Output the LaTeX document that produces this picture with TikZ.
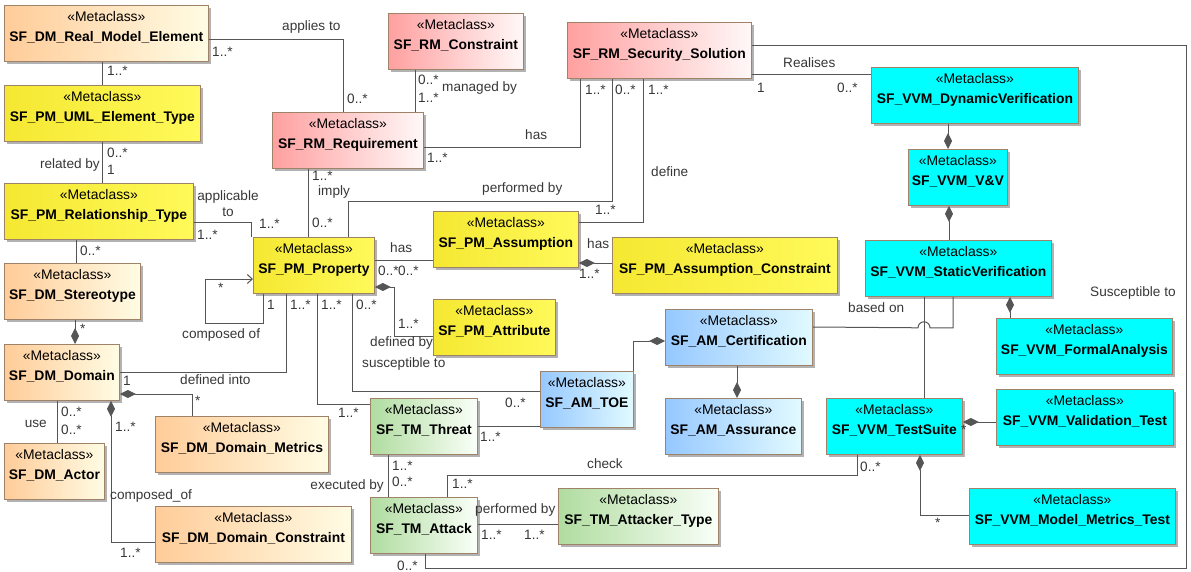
\documentclass[tikz,border=0pt]{standalone}
\usepackage{fontspec}
\setmainfont{Liberation Sans}
\usepackage{tikz}
\usetikzlibrary{calc}
\usetikzlibrary{shadows}
\usetikzlibrary{arrows.meta}
\definecolor{dmL}{RGB}{255,204,153}
\definecolor{dmR}{RGB}{255,252,228}
\definecolor{pmL}{RGB}{245,232,50}
\definecolor{pmR}{RGB}{255,250,90}
\definecolor{rmL}{RGB}{255,160,160}
\definecolor{rmR}{RGB}{255,248,248}
\definecolor{amL}{RGB}{150,200,255}
\definecolor{amR}{RGB}{225,250,255}
\definecolor{tmL}{RGB}{176,220,160}
\definecolor{tmR}{RGB}{250,255,248}
\definecolor{vvm}{RGB}{0,255,255}
\definecolor{boxline}{RGB}{160,130,105}
\definecolor{edge}{RGB}{85,85,85}
\definecolor{lbltext}{RGB}{55,55,55}
\tikzstyle{metanode} = [draw=boxline, line width=0.8pt, rectangle, anchor=north west, minimum height=56pt, inner xsep=2pt, inner ysep=0pt, text height=16pt, text depth=40pt, font=\fontsize{13.9}{20}\selectfont, drop shadow={shadow xshift=2.5pt, shadow yshift=-2.5pt, fill=black, opacity=0.3}]
\tikzstyle{colorDM} = [left color=dmL, right color=dmR]
\tikzstyle{colorPM} = [left color=pmL, right color=pmR]
\tikzstyle{colorRM} = [left color=rmL, right color=rmR]
\tikzstyle{colorAM} = [left color=amL, right color=amR]
\tikzstyle{colorTM} = [left color=tmL, right color=tmR]
\tikzstyle{colorVVM} = [fill=vvm]
\tikzstyle{assoc} = [draw=edge, line width=1pt]
\tikzstyle{comp} = [assoc, arrows={Diamond[length=16pt,width=8pt]-}]
\tikzstyle{lbl} = [anchor=west, inner sep=0pt, text=lbltext, font=\fontsize{13.6}{16}\selectfont]
\newcommand\metacls[1]{\begin{tabular}[t]{@{}c@{}}«Metaclass»\\\textbf{#1}\end{tabular}}

\begin{document}
\begin{tikzpicture}[x=1pt, y=-1pt]
\useasboundingbox (0,0) rectangle (1191,572);
% domain model
\node[metanode, colorDM, minimum width=204pt] (rme) at (4,5) {\metacls{SF\_DM\_Real\_Model\_Element}};
\node[metanode, colorDM, minimum width=136pt] (stereo) at (4,263) {\metacls{SF\_DM\_Stereotype}};
\node[metanode, colorDM, minimum width=115pt] (domain) at (4,344) {\metacls{SF\_DM\_Domain}};
\node[metanode, colorDM, minimum width=100pt] (actor) at (4,443) {\metacls{SF\_DM\_Actor}};
\node[metanode, colorDM, minimum width=173pt] (dmetrics) at (155,416) {\metacls{SF\_DM\_Domain\_Metrics}};
\node[metanode, colorDM, minimum width=196pt] (dcons) at (155,506) {\metacls{SF\_DM\_Domain\_Constraint}};
% property model
\node[metanode, colorPM, minimum width=196pt] (umlt) at (4,85) {\metacls{SF\_PM\_UML\_Element\_Type}};
\node[metanode, colorPM, minimum width=189pt] (relt) at (4,183) {\metacls{SF\_PM\_Relationship\_Type}};
\node[metanode, colorPM, minimum width=121pt] (prop) at (253,237) {\metacls{SF\_PM\_Property}};
\node[metanode, colorPM, minimum width=145pt] (assum) at (433,211) {\metacls{SF\_PM\_Assumption}};
\node[metanode, colorPM, minimum width=225pt] (assumc) at (612,237) {\metacls{SF\_PM\_Assumption\_Constraint}};
\node[metanode, colorPM, minimum width=122pt] (attr) at (433,299) {\metacls{SF\_PM\_Attribute}};
% requirement model
\node[metanode, colorRM, minimum width=151pt] (req) at (272,112) {\metacls{SF\_RM\_Requirement}};
\node[metanode, colorRM, minimum width=135pt] (rmcons) at (388,13) {\metacls{SF\_RM\_Constraint}};
\node[metanode, colorRM, minimum width=184pt] (secsol) at (567,22) {\metacls{SF\_RM\_Security\_Solution}};
% assurance model
\node[metanode, colorAM, minimum width=147pt] (cert) at (665,309) {\metacls{SF\_AM\_Certification}};
\node[metanode, colorAM, minimum width=136pt] (assur) at (665,398) {\metacls{SF\_AM\_Assurance}};
\node[metanode, colorAM, minimum width=93pt] (toe) at (540,371) {\metacls{SF\_AM\_TOE}};
% threat model
\node[metanode, colorTM, minimum width=107pt] (threat) at (370,398) {\metacls{SF\_TM\_Threat}};
\node[metanode, colorTM, minimum width=107pt] (attack) at (370,497) {\metacls{SF\_TM\_Attack}};
\node[metanode, colorTM, minimum width=160pt] (attype) at (558,488) {\metacls{SF\_TM\_Attacker\_Type}};
% V&V model
\node[metanode, colorVVM, minimum width=207pt] (dynver) at (871,67) {\metacls{SF\_VVM\_DynamicVerification}};
\node[metanode, colorVVM, minimum width=99pt] (vnv) at (908,149) {\metacls{SF\_VVM\_V\&V}};
\node[metanode, colorVVM, minimum width=186pt] (statver) at (865,240) {\metacls{SF\_VVM\_StaticVerification}};
\node[metanode, colorVVM, minimum width=176pt] (formal) at (996,318) {\metacls{SF\_VVM\_FormalAnalysis}};
\node[metanode, colorVVM, minimum width=136pt] (testsuite) at (826,398) {\metacls{SF\_VVM\_TestSuite}};
\node[metanode, colorVVM, minimum width=177pt] (valtest) at (996,389) {\metacls{SF\_VVM\_Validation\_Test}};
\node[metanode, colorVVM, minimum width=206pt] (mmtest) at (969,488) {\metacls{SF\_VVM\_Model\_Metrics\_Test}};

% associations
\draw[assoc] ($(rme.north east)+(0,35)$) -| ($(req.north west)+(71,0)$);
\draw[assoc] ($(rme.south west)+(98,0)$) -- ($(umlt.north west)+(98,0)$);
\draw[assoc] ($(umlt.south west)+(98,0)$) -- ($(relt.north west)+(98,0)$);
\draw[assoc] ($(relt.north east)+(0,40)$) -| ($(prop.north west)+(-2,0)$);
\draw[assoc] ($(relt.south west)+(72,0)$) -- ($(stereo.north west)+(72,0)$);
\draw[comp] ($(domain.north west)+(71,0)$) -- ($(stereo.south west)+(71,0)$);
\draw[assoc, -{Straight Barb[length=5pt,width=9pt]}] ($(prop.south west)+(10,0)$) -- ++(0,30) -| ($(prop.north west)+(-48,42)$) -- ($(prop.north west)+(0,42)$);
\draw[assoc] ($(prop.south west)+(33,0)$) |- ($(domain.north east)+(0,28)$);
\draw[assoc] ($(prop.south west)+(64,0)$) |- ($(threat.north west)+(0,6)$);
\draw[assoc] ($(prop.south west)+(99,0)$) |- ($(toe.north west)+(0,20)$);
\draw[comp] ($(prop.north east)+(0,50)$) -- ++(20,0) |- ($(attr.north west)+(0,37)$);
\draw[assoc] ($(prop.north east)+(0,23)$) -- ($(assum.north west)+(0,49)$);
\draw[assoc] ($(req.south west)+(36,0)$) -- ($(prop.north west)+(55,0)$);
\draw[assoc] ($(rmcons.south west)+(27,0)$) -- ($(req.north west)+(143,0)$);
\draw[assoc] ($(req.north east)+(0,36)$) -| ($(secsol.south west)+(13,0)$);
\draw[assoc] ($(secsol.south west)+(45,0)$) |- ($(prop.north west)+(95,-35)$) -- ($(prop.north west)+(95,0)$);
\draw[assoc] ($(secsol.south west)+(76,0)$) |- ($(assum.north east)+(0,12)$);
\draw[comp] ($(assum.north east)+(0,52)$) -- ($(assumc.north west)+(0,26)$);
\draw[assoc] ($(secsol.north east)+(0,53)$) -- ($(dynver.north west)+(0,8)$);
\draw[assoc] ($(secsol.north east)+(0,24)$) -- ++(435,0) |- ($(attack.south west)+(55,15)$) -- ($(attack.south west)+(55,0)$);
\draw[comp] ($(vnv.north west)+(40,0)$) -- ($(dynver.south west)+(77,0)$);
\draw[comp] ($(vnv.south west)+(41,0)$) -- ($(statver.north west)+(84,0)$);
\draw[comp] ($(statver.south west)+(145,0)$) -- ($(formal.north west)+(14,0)$);
\draw[assoc] ($(statver.south west)+(59,0)$) -- ($(testsuite.north west)+(98,0)$);
\draw[assoc] ($(cert.north east)+(0,18)$) -- ($(statver.south west)+(53,31)$) arc[start angle=180, end angle=0, radius=6pt] -| ($(statver.south west)+(88,0)$);
\draw[comp] ($(cert.north west)+(0,32)$) -| (toe.north east);
\draw[comp] ($(assur.north west)+(72,0)$) -- ($(cert.south west)+(72,0)$);
\draw[assoc] ($(threat.north east)+(0,28)$) -- ($(toe.north west)+(0,55)$);
\draw[assoc] ($(threat.south west)+(18,0)$) -- ($(attack.north west)+(18,0)$);
\draw[assoc] ($(attack.north west)+(77,0)$) |- ($(testsuite.south west)+(31,21)$) -- ($(testsuite.south west)+(31,0)$);
\draw[assoc] ($(attack.north east)+(0,27)$) -- ($(attype.north west)+(0,36)$);
\draw[comp] ($(testsuite.north east)+(0,24)$) -- ($(valtest.north west)+(0,33)$);
\draw[comp] ($(testsuite.south west)+(94,0)$) |- ($(mmtest.north west)+(0,27)$);
\draw[assoc] ($(domain.south west)+(53,0)$) -- ($(actor.north west)+(53,0)$);
\draw[comp] ($(domain.north east)+(0,50)$) -| ($(dmetrics.north west)+(37,0)$);
\draw[comp] ($(domain.south west)+(107,0)$) |- ($(dcons.north west)+(0,36)$);

% labels and multiplicities
\node[lbl] (appliesto) at (282,27) {applies to};
\node[lbl] (mrmereq) at (212,52) {1..*};
\node[lbl] (mreqrme) at (347,99) {0..*};
\node[lbl] (mrmeuml) at (107,71) {1..*};
\node[lbl] (mumlrel) at (107,153) {0..*};
\node[lbl] (mreluml) at (107,170) {1};
\node[lbl, anchor=east] (relatedby) at (100,165) {related by};
\node[lbl, anchor=center, align=center] (applicable) at (228,204) {applicable\\to};
\node[lbl] (mproprel) at (259,224) {1..*};
\node[lbl] (mrelprop) at (197,235) {1..*};
\node[lbl] (mrelst) at (80,251) {0..*};
\node[lbl] (mstdom) at (80,329) {*};
\node[lbl] (mloopa) at (218,288) {*};
\node[lbl] (mloopb) at (267,305) {1};
\node[lbl] (composedof) at (182,335) {composed of};
\node[lbl] (definedinto) at (180,380) {defined into};
\node[lbl] (mdomprop) at (123,381) {1};
\node[lbl] (mpropdom) at (290,305) {1..*};
\node[lbl] (mpropthr) at (321,305) {1..*};
\node[lbl] (mproptoe) at (356,305) {0..*};
\node[lbl] (mthrprop) at (338,413) {1..*};
\node[lbl] (susceptible) at (362,364) {susceptible to};
\node[lbl] (mtoeprop) at (505,403) {0..*};
\node[lbl] (mattr) at (398,324) {1..*};
\node[lbl] (definedby) at (370,343) {defined by};
\node[lbl] (hasa) at (390,248) {has};
\node[lbl] (mpropas) at (378,271) {0..*};
\node[lbl] (masprop) at (398,271) {0..*};
\node[lbl] (mreqprop) at (312,176) {1..*};
\node[lbl] (imply) at (318,192) {imply};
\node[lbl] (mpropreq) at (312,223) {0..*};
\node[lbl] (mconsreq) at (418,80) {0..*};
\node[lbl] (mreqcons) at (418,98) {1..*};
\node[lbl] (managedby) at (442,88) {managed by};
\node[lbl] (hasb) at (525,135) {has};
\node[lbl] (mreqsol) at (427,158) {1..*};
\node[lbl] (msolreq) at (585,90) {1..*};
\node[lbl] (performedbya) at (482,189) {performed by};
\node[lbl] (msolprop) at (615,90) {0..*};
\node[lbl] (massol) at (595,210) {1..*};
\node[lbl] (define) at (651,172) {define};
\node[lbl] (msolas) at (648,90) {1..*};
\node[lbl] (hasc) at (587,244) {has};
\node[lbl] (masc) at (579,274) {1..*};
\node[lbl] (realises) at (783,63) {Realises};
\node[lbl] (msoldyn) at (757,88) {1};
\node[lbl] (mdynsol) at (837,88) {0..*};
\node[lbl] (suscbig) at (1090,293) {Susceptible to};
\node[lbl] (mattsol) at (397,566) {0..*};
\node[lbl] (basedon) at (848,308) {based on};
\node[lbl] (mthrtoe) at (480,437) {1..*};
\node[lbl] (mthratt) at (392,466) {1..*};
\node[lbl] (mattthr) at (392,482) {0..*};
\node[lbl, anchor=east] (executedby) at (384,486) {executed by};
\node[lbl] (check) at (587,464) {check};
\node[lbl] (mattts) at (452,484) {1..*};
\node[lbl] (mtsatt) at (860,467) {0..*};
\node[lbl] (performedbyb) at (475,510) {performed by};
\node[lbl] (matttyp) at (481,535) {1..*};
\node[lbl] (mtypatt) at (524,535) {1..*};
\node[lbl] (mval) at (961,430) {*};
\node[lbl] (mmm) at (935,523) {*};
\node[lbl, anchor=east] (use) at (47,424) {use};
\node[lbl] (mdomact) at (61,412) {0..*};
\node[lbl] (mactdom) at (61,430) {0..*};
\node[lbl] (mdommet) at (195,401) {*};
\node[lbl] (mdomcon) at (115,427) {1..*};
\node[lbl] (composedofb) at (110,496) {composed\_of};
\node[lbl] (mcondom) at (120,553) {1..*};
\end{tikzpicture}
\end{document}
